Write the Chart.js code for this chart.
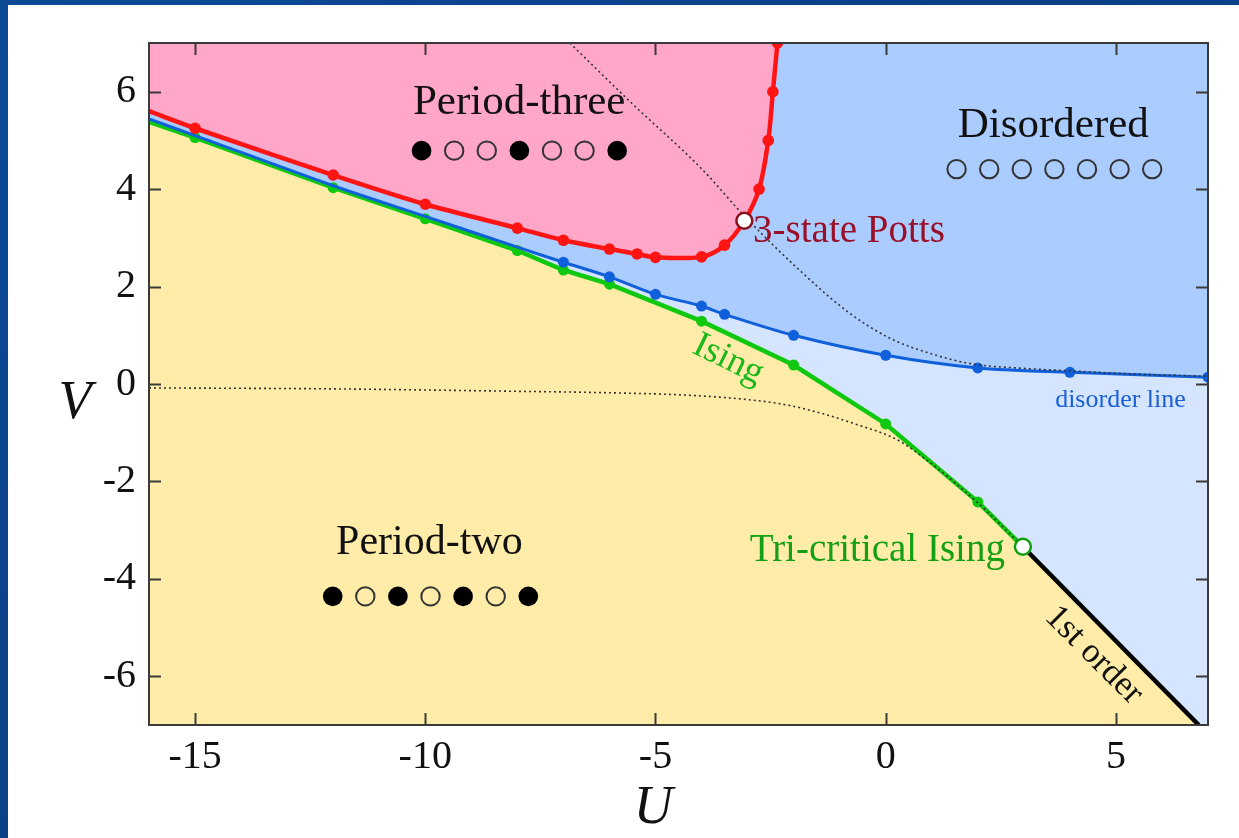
<!DOCTYPE html>
<html><head><meta charset="utf-8">
<script src="https://cdn.jsdelivr.net/npm/chart.js@4.4.0/dist/chart.umd.min.js"></script>
<style>
html,body{margin:0;padding:0;width:1239px;height:838px;overflow:hidden;
  background:linear-gradient(135deg,#0d4a96 0%,#0a3f85 50%,#0d4a96 100%);}
#wrap{position:absolute;left:8px;top:5px;width:1231px;height:833px;background:#fff;}
canvas{display:block;}
</style></head><body>
<div id="wrap"><canvas id="c" width="1231" height="833"></canvas></div>
<script>
// ---- tick labels ----
const xTicks = [-15, -10, -5, 0, 5];
const yTicks = [-6, -4, -2, 0, 2, 4, 6];

// ---- period-three boundary (red) ----
const redU = [-16, -15, -12, -10, -8, -7, -6, -5.4, -5, -4, -3.5, -3.07, -2.75, -2.55, -2.45, -2.35];
const redV = [5.60, 5.25, 4.29, 3.69, 3.20, 2.95, 2.77, 2.67, 2.60, 2.61, 2.85, 3.35, 4.0, 5.0, 6.0, 7.0];

// ---- disorder line (blue) ----
const blueU = [-16, -15, -12, -10, -8, -7, -6, -5, -4, -3.5, -2, 0, 2, 4, 7];
const blueV = [5.44, 5.10, 4.07, 3.44, 2.81, 2.50, 2.20, 1.84, 1.60, 1.43, 1.00, 0.59, 0.33, 0.24, 0.14];

// ---- Ising line (green) ----
const greenU = [-16, -15, -12, -10, -8, -7, -6, -4, -2, 0, 2, 2.98];
const greenV = [5.38, 5.06, 4.03, 3.39, 2.74, 2.34, 2.05, 1.29, 0.39, -0.82, -2.42, -3.34];

// ---- first-order line (black) ----
const firstU = [2.98, 6.8];
const firstV = [-3.34, -7.0];

// ---- dotted guide curves ----
const dotAU = [-6.86, -5.5, -4.0, -3.07, -2.0, -0.82, 0.09, 0.96, 1.83, 3.0, 4.0, 5.5, 7.0];
const dotAV = [7.0, 5.75, 4.42, 3.45, 2.45, 1.48, 0.94, 0.63, 0.42, 0.32, 0.27, 0.20, 0.16];
const dotBU = [-16, -12, -8, -6, -4.3, -3, -2.15, -1.4, -0.7, 0.24, 1.0, 2.0, 2.98];
const dotBV = [-0.08, -0.10, -0.15, -0.18, -0.23, -0.32, -0.43, -0.60, -0.81, -1.14, -1.64, -2.44, -3.34];

// ---- special points ----
const pottsU = [-3.07], pottsV = [3.35];
const tricU = [2.98], tricV = [-3.34];

// ---- configuration patterns ----
const p3Pattern = [1, 0, 0, 1, 0, 0, 1];
const p2Pattern = [1, 0, 1, 0, 1, 0, 1];
const disPattern = [0, 0, 0, 0, 0, 0, 0];

const pts = (U, V) => U.map((u, i) => ({x: u, y: V[i]}));

const C = {
  pink: '#ffa6c9', midBlue: '#aaccff', lightBlue: '#d5e5ff', yellow: '#ffeca8',
  red: '#ff1414', blue: '#1060dc', green: '#10c810', black: '#000'
};
const SERIF = '"Liberation Serif", "DejaVu Serif", serif';

const yellowPts = pts(greenU, greenV).concat([{x: firstU[1], y: firstV[1]}]);

const bgPlugin = {
  id: 'bg',
  beforeDatasetsDraw(chart) {
    const {ctx, chartArea: a} = chart;
    ctx.save();
    ctx.fillStyle = C.midBlue;
    ctx.fillRect(a.left, a.top, a.right - a.left, a.bottom - a.top);
    ctx.restore();
  }
};

const annotPlugin = {
  id: 'annot',
  afterDatasetsDraw(chart) {
    const {ctx, chartArea: a, scales: {x, y}} = chart;
    ctx.save();
    // frame
    ctx.strokeStyle = '#3a3a3a';
    ctx.lineWidth = 2;
    ctx.strokeRect(a.left, a.top, a.right - a.left, a.bottom - a.top);
    // inward ticks on all sides
    const tl = 12;
    ctx.beginPath();
    xTicks.forEach(v => {
      const px = Math.round(x.getPixelForValue(v)) + 0.5;
      ctx.moveTo(px, a.bottom); ctx.lineTo(px, a.bottom - tl);
      ctx.moveTo(px, a.top); ctx.lineTo(px, a.top + tl);
    });
    yTicks.forEach(v => {
      const py = Math.round(y.getPixelForValue(v)) + 0.5;
      ctx.moveTo(a.left, py); ctx.lineTo(a.left + tl, py);
      ctx.moveTo(a.right, py); ctx.lineTo(a.right - tl, py);
    });
    ctx.stroke();

    const text = (s, u, v, font, color, align, rot) => {
      ctx.save();
      ctx.translate(x.getPixelForValue(u), y.getPixelForValue(v));
      if (rot) ctx.rotate(rot * Math.PI / 180);
      ctx.font = font; ctx.fillStyle = color;
      ctx.textAlign = align || 'center';
      ctx.textBaseline = rot ? 'middle' : 'alphabetic';
      ctx.fillText(s, 0, 0);
      ctx.restore();
    };
    text('Period-three', -7.96, 5.54, '43px ' + SERIF, '#111');
    text('Disordered', 3.64, 5.08, '43px ' + SERIF, '#111');
    text('Period-two', -9.91, -3.48, '42px ' + SERIF, '#111');
    text('3-state Potts', -2.88, 2.91, '39px ' + SERIF, '#9a1028', 'left');
    text('disorder line', 3.68, -0.47, '26px ' + SERIF, '#1a5fd6', 'left');
    text('Tri-critical Ising', 2.59, -3.64, '39px ' + SERIF, '#14a014', 'right');
    text('Ising', -3.42, 0.50, '37px ' + SERIF, '#1ab81a', 'center', 26);
    text('1st order', 4.52, -5.57, '35px ' + SERIF, '#111', 'center', 45);

    const pattern = (pat, u, v) => {
      const x0 = x.getPixelForValue(u), y0 = y.getPixelForValue(v);
      pat.forEach((f, i) => {
        ctx.beginPath();
        if (f) {
          ctx.arc(x0 + i * 32.6, y0, 9.8, 0, 2 * Math.PI);
          ctx.fillStyle = '#000'; ctx.fill();
        } else {
          ctx.arc(x0 + i * 32.6, y0, 9.2, 0, 2 * Math.PI);
          ctx.lineWidth = 2; ctx.strokeStyle = '#333'; ctx.stroke();
        }
      });
    };
    pattern(p3Pattern, -10.08, 4.79);
    pattern(disPattern, 1.54, 4.41);
    pattern(p2Pattern, -12.01, -4.36);

    // axis titles
    ctx.font = 'italic 54px ' + SERIF;
    ctx.fillStyle = '#111';
    ctx.textAlign = 'center'; ctx.textBaseline = 'middle';
    ctx.fillText('V', a.left - 74, y.getPixelForValue(0) + 20);
    ctx.fillText('U', x.getPixelForValue(-5.05), a.bottom + 84);
    ctx.restore();
  }
};

new Chart(document.getElementById('c'), {
  type: 'line',
  data: {
    datasets: [
      {data: pts(blueU, blueV), fill: 'start', backgroundColor: C.lightBlue, borderWidth: 0, pointRadius: 0, tension: 0.3, order: 10},
      {data: yellowPts, fill: 'start', backgroundColor: C.yellow, borderWidth: 0, pointRadius: 0, tension: 0, order: 9},
      {data: pts(redU, redV), fill: 'end', backgroundColor: C.pink, borderWidth: 0, pointRadius: 0, tension: 0.3, order: 8},
      {data: pts(firstU, firstV), borderColor: C.black, borderWidth: 4.5, pointRadius: 0, fill: false, order: 6},
      {data: pts(greenU, greenV), borderColor: C.green, borderWidth: 4.5, fill: false, tension: 0,
        pointRadius: c => (c.dataIndex === 0 ? 0 : 5.5), pointBackgroundColor: C.green, pointBorderWidth: 0, order: 5},
      {data: pts(blueU, blueV), borderColor: C.blue, borderWidth: 3, fill: false, tension: 0.3,
        pointRadius: c => (c.raw && c.raw.x >= -7 ? 5.5 : 0), pointBackgroundColor: C.blue, pointBorderWidth: 0, order: 4},
      {data: pts(redU, redV), borderColor: C.red, borderWidth: 4.5, fill: false, tension: 0.3,
        pointRadius: c => (c.dataIndex === 0 ? 0 : 5.8), pointBackgroundColor: C.red, pointBorderWidth: 0, order: 3},
      {data: pts(dotAU, dotAV), borderColor: '#333', borderWidth: 1.6, borderDash: [2, 3], pointRadius: 0, fill: false, cubicInterpolationMode: 'monotone', order: 2},
      {data: pts(dotBU, dotBV), borderColor: '#333', borderWidth: 1.6, borderDash: [2, 3], pointRadius: 0, fill: false, cubicInterpolationMode: 'monotone', order: 2},
      {data: pts(pottsU, pottsV), showLine: false, pointRadius: 8, pointBackgroundColor: '#fff', pointBorderColor: '#8a1020', pointBorderWidth: 2.5, order: 1},
      {data: pts(tricU, tricV), showLine: false, pointRadius: 8, pointBackgroundColor: '#fff', pointBorderColor: '#10a010', pointBorderWidth: 2.5, order: 1}
    ]
  },
  options: {
    responsive: false,
    animation: false,
    events: [],
    devicePixelRatio: 1,
    layout: {padding: {top: 38, right: 31, left: 0, bottom: 0}},
    plugins: {legend: {display: false}, tooltip: {enabled: false}},
    scales: {
      x: {
        type: 'linear', min: -16, max: 7,
        afterBuildTicks: s => { s.ticks = xTicks.map(v => ({value: v})); },
        afterFit: s => { s.height = 113; },
        grid: {display: false, drawTicks: false},
        border: {display: false},
        ticks: {color: '#111', padding: 8, font: {family: SERIF, size: 40}, callback: v => String(v)}
      },
      y: {
        type: 'linear', min: -7, max: 7,
        afterBuildTicks: s => { s.ticks = yTicks.map(v => ({value: v})); },
        afterFit: s => { s.width = 141; },
        grid: {display: false, drawTicks: false},
        border: {display: false},
        ticks: {color: '#111', padding: 13, font: {family: SERIF, size: 40}, callback: v => String(v)}
      }
    }
  },
  plugins: [bgPlugin, annotPlugin]
});
</script>
</body></html>
